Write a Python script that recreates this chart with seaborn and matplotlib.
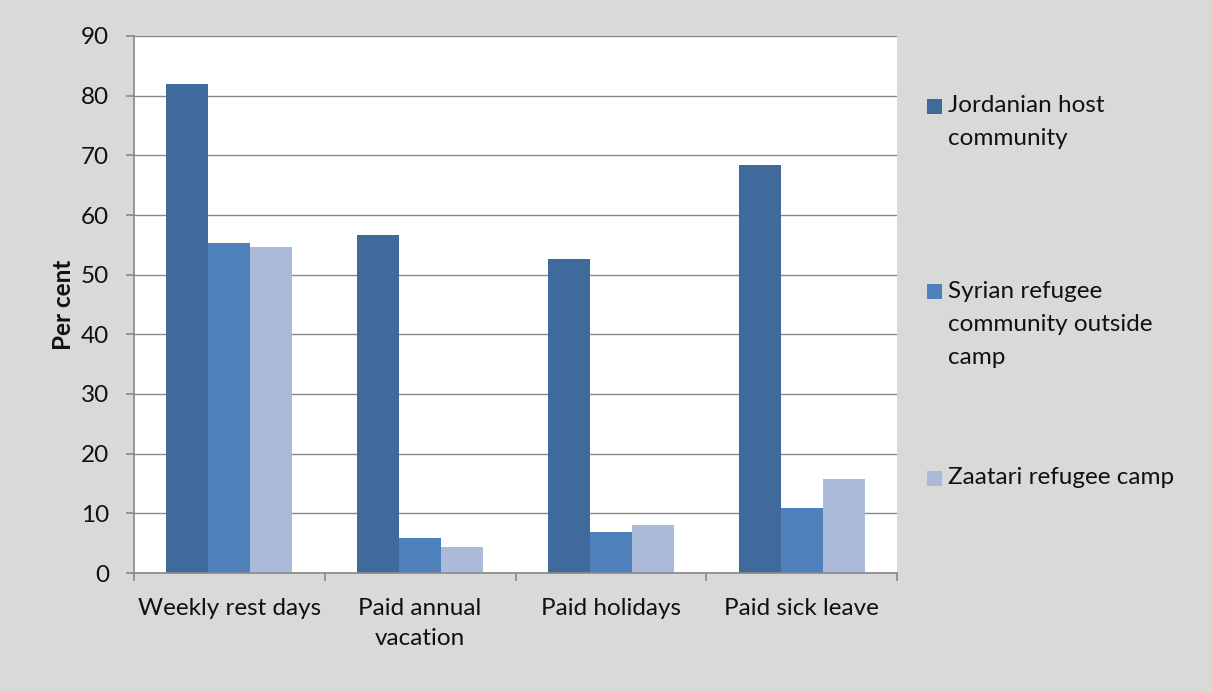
import matplotlib
matplotlib.use("Agg")
import matplotlib.pyplot as plt
import seaborn as sns
import pandas as pd
from matplotlib.patches import Rectangle

categories = ["Weekly rest days", "Paid annual\nvacation", "Paid holidays", "Paid sick leave"]
series_names = ["Jordanian host community",
                "Syrian refugee community outside camp",
                "Zaatari refugee camp"]
legend_labels = ["Jordanian host\ncommunity",
                 "Syrian refugee\ncommunity outside\ncamp",
                 "Zaatari refugee camp"]
jordanian = [82.0, 56.6, 52.6, 68.3]
syrian_outside = [55.3, 5.8, 6.9, 10.9]
zaatari = [54.6, 4.3, 8.1, 15.7]
colors = ["#3f6a9b", "#4f81bd", "#aabad8"]
yticks = [0, 10, 20, 30, 40, 50, 60, 70, 80, 90]

rows = []
for name, vals in zip(series_names, [jordanian, syrian_outside, zaatari]):
    for c, v in zip(categories, vals):
        rows.append({"category": c, "series": name, "value": v})
df = pd.DataFrame(rows)

sns.set_theme(style="white")
plt.rcParams['font.family'] = ['Lato', 'DejaVu Sans']
FS = 17.5

fig = plt.figure(figsize=(12.12, 6.91), dpi=100)
fig.patch.set_facecolor("#d9d9d9")
ax = fig.add_axes([134/1212, 1 - 573/691, (897-134)/1212, (573-36)/691])
ax.set_facecolor("white")

sns.barplot(data=df, x="category", y="value", hue="series", order=categories,
            hue_order=series_names, palette=colors, width=0.66, gap=0,
            saturation=1, errorbar=None, ax=ax, legend=False, edgecolor="none")

ax.set_xlim(-0.5, 3.5)
ax.set_ylim(0, 90)
ax.set_yticks(yticks)
ax.set_yticklabels([str(t) for t in yticks], fontsize=FS, color="#111111")
ax.grid(axis="y", color="#888888", linewidth=1.0)
ax.set_axisbelow(True)
ax.tick_params(axis="y", length=6, width=1.2, color="#888888", pad=12, left=True)
ax.tick_params(axis="x", which="major", length=0, pad=18, labelsize=FS, labelcolor="#111111")
ax.set_xticks([-0.5, 0.5, 1.5, 2.5, 3.5], minor=True)
ax.tick_params(axis="x", which="minor", length=6, width=1.2, color="#888888", bottom=True)
for lab in ax.get_xticklabels():
    lab.set_linespacing(1.55)

for s in ["top", "right"]:
    ax.spines[s].set_visible(False)
for s in ["left", "bottom"]:
    ax.spines[s].set_color("#888888")
    ax.spines[s].set_linewidth(1.2)

ax.set_xlabel("")
ax.set_ylabel("Per cent", fontsize=FS, fontweight="bold", color="#111111", labelpad=4)

# Legend (manual, handles aligned with first line of text)
W, H = 1212, 691
legend_y = [106, 292, 478]
for lab, col, yc in zip(legend_labels, colors, legend_y):
    fig.patches.append(Rectangle((927/W, (H - yc - 7.5)/H), 15/W, 15/H,
                                 transform=fig.transFigure, facecolor=col,
                                 edgecolor="none"))
    fig.text(948/W, (H - yc + 11)/H, lab, fontsize=FS, color="#111111",
             ha="left", va="top", linespacing=1.72)

fig.savefig("out.png", dpi=100, facecolor=fig.get_facecolor())
